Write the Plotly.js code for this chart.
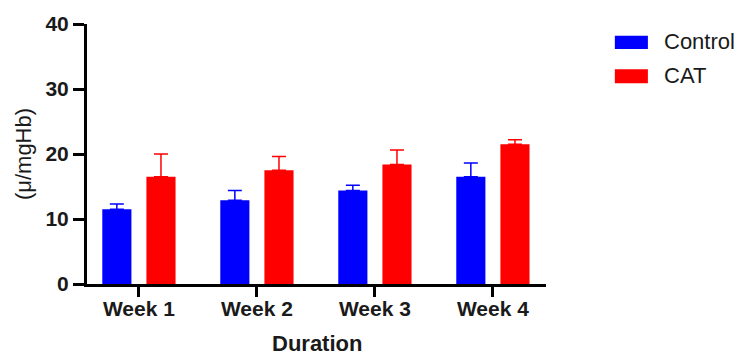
<!DOCTYPE html>
<html>
<head>
<meta charset="utf-8">
<script src="https://cdn.plot.ly/plotly-3.0.1.min.js"></script>
<style>html,body{margin:0;padding:0;background:#fff;}#chart{width:745px;height:356px;}</style>
</head>
<body>
<div id="chart"></div>
<script>
var weeks = ["Week 1", "Week 2", "Week 3", "Week 4"];
var controlValues = [11.5, 12.9, 14.4, 16.5];
var controlErr = [0.8, 1.5, 0.8, 2.1];
var catValues = [16.5, 17.5, 18.4, 21.5];
var catErr = [3.5, 2.1, 2.2, 0.7];
var seriesNames = ["Control", "CAT"];
var yTicks = [0, 10, 20, 30, 40];
var xTitle = "Duration";
var yTitle = "(\u03bc/mgHb)";

var FONT = "Liberation Sans, Arial, Helvetica, sans-serif";
var BLUE = "#0000FF", RED = "#FF0000";

function zeros(a){ return a.map(function(){ return 0; }); }

var traces = [
  {
    type: "bar", name: seriesNames[0], x: weeks, y: controlValues,
    marker: {color: BLUE, line: {width: 0}},
    error_y: {type: "data", symmetric: false, array: controlErr, arrayminus: zeros(controlErr),
              color: BLUE, thickness: 1.5, width: 7},
    showlegend: false
  },
  {
    type: "bar", name: seriesNames[1], x: weeks, y: catValues,
    marker: {color: RED, line: {width: 0}},
    error_y: {type: "data", symmetric: false, array: catErr, arrayminus: zeros(catErr),
              color: RED, thickness: 1.5, width: 7},
    showlegend: false
  }
];

var layout = {
  width: 745, height: 356,
  margin: {l: 87, r: 199, t: 24, b: 72},
  paper_bgcolor: "#fff", plot_bgcolor: "#fff",
  barmode: "group", bargap: 0.252, bargroupgap: 0.34,
  font: {family: FONT, color: "#000"},
  xaxis: {
    type: "category", range: [-0.44, 3.45],
    showline: true, linewidth: 3, linecolor: "#000",
    ticks: "outside", ticklen: 10, tickwidth: 3, tickcolor: "#000",
    tickfont: {family: FONT, size: 21, weight: "bold", color: "#1a1a1a"},
    ticklabelstandoff: -6,
    showgrid: false, zeroline: false
  },
  yaxis: {
    range: [0, 40], tickvals: yTicks, ticktext: yTicks.map(String),
    showline: true, linewidth: 3, linecolor: "#000",
    ticks: "outside", ticklen: 11, tickwidth: 3, tickcolor: "#000",
    tickfont: {family: FONT, size: 21, weight: "bold", color: "#1a1a1a"},
    showgrid: false, zeroline: false,
    title: {text: yTitle, font: {family: FONT, size: 22, color: "#1a1a1a"}, standoff: 8}
  },
  shapes: [
    {type: "rect", xref: "paper", yref: "paper", x0: 1.150, x1: 1.222, y0: 0.904, y1: 0.955,
     fillcolor: BLUE, line: {width: 0}},
    {type: "rect", xref: "paper", yref: "paper", x0: 1.150, x1: 1.222, y0: 0.772, y1: 0.826,
     fillcolor: RED, line: {width: 0}}
  ],
  annotations: [
    {xref: "paper", yref: "paper", x: 0.5, y: -0.227, xanchor: "center", yanchor: "middle",
     borderpad: 0,
     text: xTitle, showarrow: false, font: {family: FONT, size: 22, weight: "bold", color: "#1a1a1a"}},
    {xref: "paper", yref: "paper", x: 1.252, y: 0.931, xanchor: "left", yanchor: "middle",
     text: seriesNames[0], showarrow: false, font: {family: FONT, size: 22, color: "#1a1a1a"}},
    {xref: "paper", yref: "paper", x: 1.252, y: 0.80, xanchor: "left", yanchor: "middle",
     text: seriesNames[1], showarrow: false, font: {family: FONT, size: 22, color: "#1a1a1a"}}
  ]
};

Plotly.newPlot("chart", traces, layout, {staticPlot: true, displayModeBar: false});
</script>
</body>
</html>
